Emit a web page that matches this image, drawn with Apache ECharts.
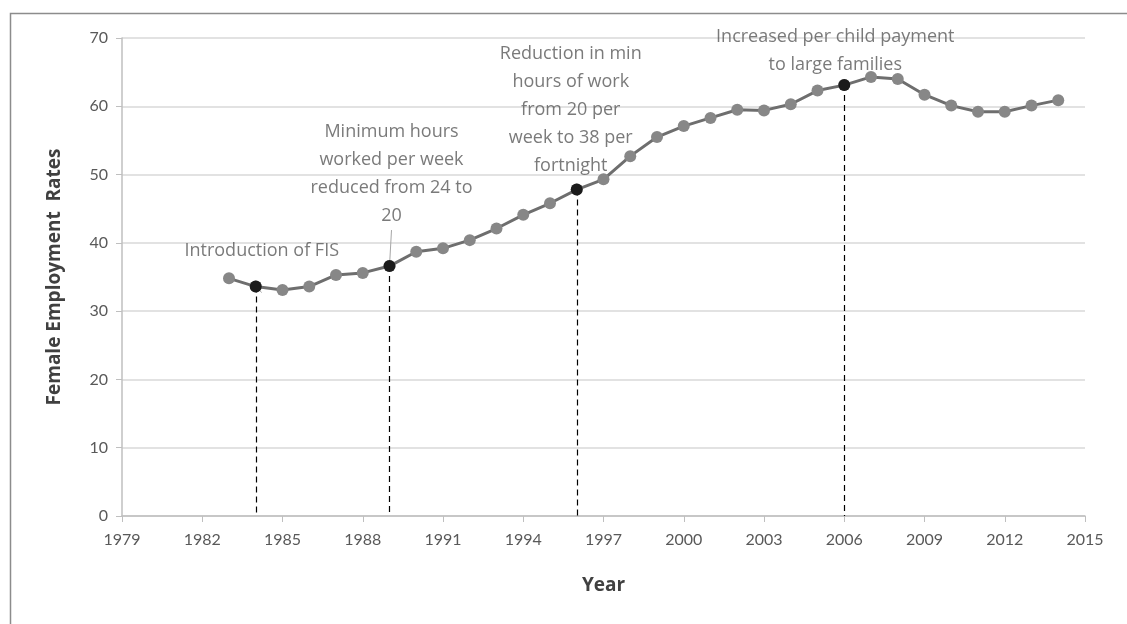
<!DOCTYPE html>
<html>
<head>
<meta charset="utf-8">
<script src="https://cdn.jsdelivr.net/npm/echarts@6/dist/echarts.min.js"></script>
<style>
html,body{margin:0;padding:0;background:#fff;}
#chart{width:1127px;height:624px;}
</style>
</head>
<body>
<div id="chart"></div>
<script>
// Axis categories (every year on the axis)
var yearCategories = ['1979','1980','1981','1982','1983','1984','1985','1986','1987','1988','1989','1990',
  '1991','1992','1993','1994','1995','1996','1997','1998','1999','2000','2001','2002','2003','2004',
  '2005','2006','2007','2008','2009','2010','2011','2012','2013','2014','2015'];

// Series: female employment rate by year
var years = [1983,1984,1985,1986,1987,1988,1989,1990,1991,1992,1993,1994,1995,1996,1997,1998,
  1999,2000,2001,2002,2003,2004,2005,2006,2007,2008,2009,2010,2011,2012,2013,2014];
var rates = [34.8,33.6,33.1,33.6,35.3,35.6,36.6,38.7,39.2,40.4,42.1,44.1,45.8,47.8,49.3,52.7,
  55.5,57.1,58.3,59.5,59.4,60.3,62.3,63.1,64.3,64.0,61.7,60.1,59.2,59.2,60.1,60.9];

// Policy events
var eventYears = [1984, 1989, 1996, 2006];
var eventLabels = [
  'Introduction of FIS',
  'Minimum hours\nworked per week\nreduced from 24 to\n20',
  'Reduction in min\nhours of work\nfrom 20 per\nweek to 38 per\nfortnight',
  'Increased per child payment\nto large families'
];

var textColor = '#595959';
var fontFam = '"Open Sans", Lato, sans-serif';

var lineData = years.map(function (y, i) { return [String(y), rates[i]]; });
function rateOf(y) { return rates[years.indexOf(y)]; }

var labelStyles = [
  { distance: 16, offset: [6, 0], line: true },
  { distance: 30, offset: [2, 0], line: true },
  { distance: 4, offset: [-6, 0], line: false },
  { distance: 0, offset: [-9, 0], line: false }
];

var eventData = eventYears.map(function (y, i) {
  var s = labelStyles[i];
  return {
    value: [String(y), rateOf(y)],
    label: { formatter: eventLabels[i], distance: s.distance, offset: s.offset },
    labelLine: { show: s.line, lineStyle: { color: '#a6a6a6', width: 1 } }
  };
});

var dropLines = eventYears.map(function (y) {
  return [{ coord: [String(y), rateOf(y)] }, { coord: [String(y), 0] }];
});

var chart = echarts.init(document.getElementById('chart'));
chart.setOption({
  backgroundColor: '#fff',
  animation: false,
  graphic: [{
    type: 'rect', left: 8, top: 11, z: 0,
    shape: { width: 1140, height: 640 },
    style: { fill: 'none', stroke: '#8c8c8c', lineWidth: 1.5 }
  }],
  grid: { left: 122, right: 42, top: 38, bottom: 108 },
  xAxis: {
    type: 'category',
    data: yearCategories,
    boundaryGap: false,
    name: 'Year',
    nameLocation: 'middle',
    nameGap: 60,
    nameTextStyle: { fontFamily: fontFam, fontWeight: 'bold', fontSize: 19, color: '#404040' },
    axisLine: { lineStyle: { color: '#bfbfbf', width: 1.5 } },
    axisTick: { show: true, interval: 2, length: 6, lineStyle: { color: '#bfbfbf' } },
    axisLabel: { interval: 2, margin: 16, fontFamily: 'Lato, sans-serif', fontSize: 16, color: textColor },
    splitLine: { show: false }
  },
  yAxis: {
    type: 'value',
    min: 0, max: 70, interval: 10,
    name: 'Female Employment  Rates',
    nameLocation: 'middle',
    nameGap: 58,
    nameRotate: 90,
    nameTextStyle: { fontFamily: fontFam, fontWeight: 'bold', fontSize: 19, color: '#404040' },
    axisLine: { show: true, lineStyle: { color: '#bfbfbf', width: 1.5 } },
    axisTick: { show: true, length: 6, lineStyle: { color: '#bfbfbf' } },
    axisLabel: { margin: 14, fontFamily: 'Lato, sans-serif', fontSize: 16, color: textColor },
    splitLine: { show: true, lineStyle: { color: '#d9d9d9', width: 1.5 } }
  },
  series: [
    {
      type: 'line',
      data: lineData,
      symbol: 'circle',
      symbolSize: 12,
      lineStyle: { color: '#6e6e6e', width: 3 },
      itemStyle: { color: '#878787' },
      z: 3
    },
    {
      type: 'scatter',
      data: eventData,
      symbol: 'circle',
      symbolSize: 12,
      itemStyle: { color: '#000' },
      z: 4,
      label: {
        show: true,
        position: 'top',
        align: 'center',
        fontFamily: fontFam,
        fontSize: 18,
        lineHeight: 28,
        color: textColor
      },
      markLine: {
        silent: true,
        symbol: 'none',
        label: { show: false },
        lineStyle: { color: '#000', type: [6, 4], width: 1.2 },
        data: dropLines,
        z: 1
      }
    }
  ]
});
</script>
</body>
</html>
